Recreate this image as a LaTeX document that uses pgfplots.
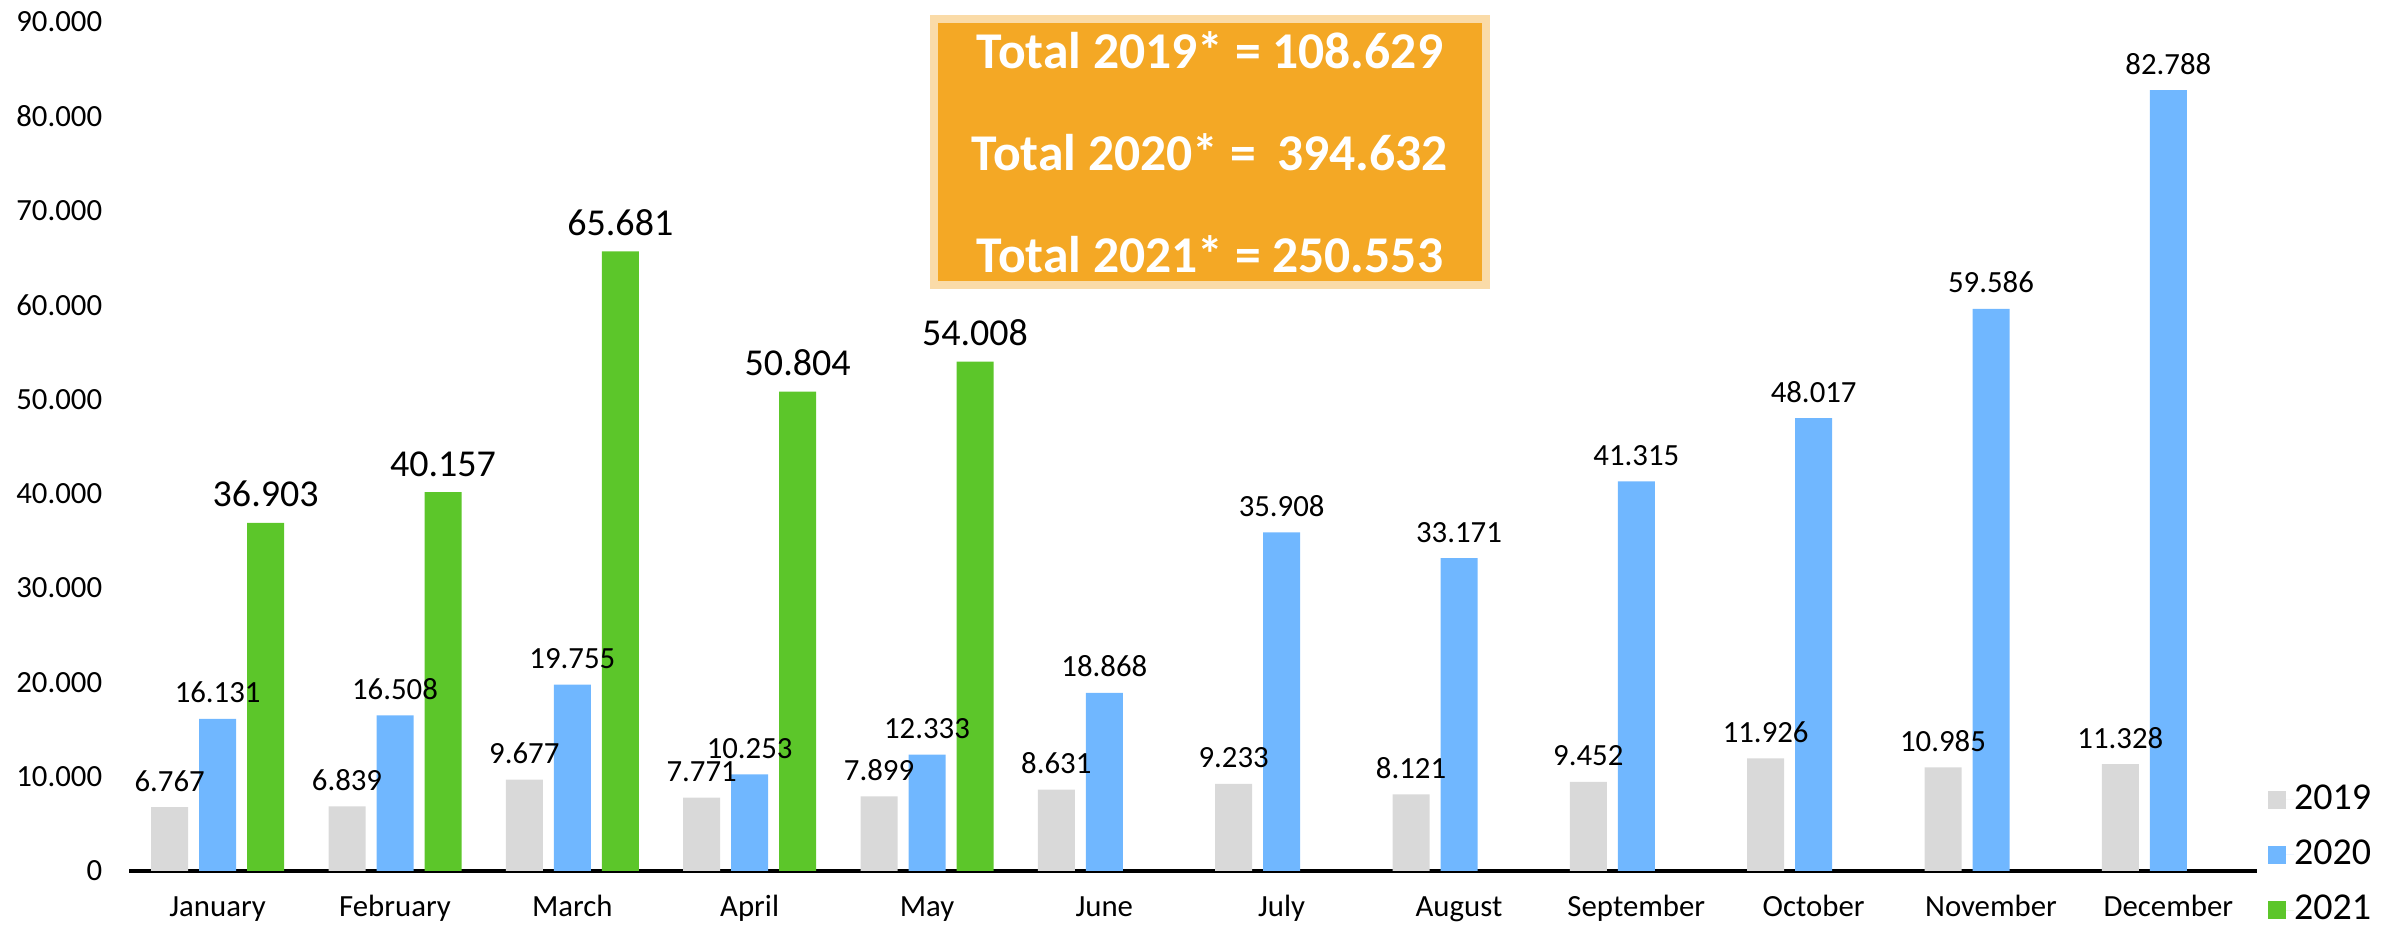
\documentclass[border=0pt]{standalone}
\usepackage{pgfplots}
\pgfplotsset{compat=1.18}
\usepackage{fontspec}
\setmainfont{Carlito}
\definecolor{c19}{HTML}{D9D9D9}
\definecolor{c20}{HTML}{70B7FF}
\definecolor{c21}{HTML}{5CC62A}
\definecolor{boxfill}{HTML}{F4A825}
\definecolor{boxline}{HTML}{FADBA8}
\pgfkeys{/pgf/number format/.cd, fixed, precision=0, 1000 sep={.}, assume math mode=true}
\begin{document}
\begin{tikzpicture}
\useasboundingbox (0,0) rectangle (600.5pt,231.75pt);
\begin{axis}[
  at={(32.25pt,14pt)}, anchor=south west,
  scale only axis, width=532pt, height=212.25pt,
  xmin=-0.5, xmax=11.5, ymin=0, ymax=90000,
  ybar=2.75pt, bar width=9.25pt,
  axis lines*=left, axis line style={-},
  y axis line style={draw=none},
  x axis line style={line width=1pt, black},
  major tick length=0pt,
  xtick={0,...,11},
  xticklabels={January,February,March,April,May,June,July,August,September,October,November,December},
  ytick={0,10000,...,90000},
  scaled y ticks=false,
  tick label style={font=\fontsize{7.7}{9}\selectfont, inner sep=0pt},
  xticklabel style={anchor=base, yshift=-11.5pt},
  yticklabel style={anchor=east, xshift=-6.5pt},
  nodes near coords,
  every node near coord/.append style={font=\fontsize{7.7}{9}\selectfont, anchor=base, inner sep=0pt, yshift=4pt, text=black},
  legend style={at={(rel axis cs:1,0)}, anchor=west, xshift=2.75pt, yshift=4pt,
    draw=none, fill=none, inner sep=0pt, outer sep=0pt,
    font=\fontsize{9.5}{11}\selectfont, row sep=6.1pt,
    nodes={inner sep=0pt}},
  legend cell align=left,
  legend image code/.code={\fill[#1] (0pt,-2.25pt) rectangle (4.5pt,2.25pt); \path (4.5pt,0) -- (6.5pt,0);},
  clip=false,
]
\addplot[fill=c19, draw=none] coordinates {(0,6767) (1,6839) (2,9677) (3,7771) (4,7899) (5,8631) (6,9233) (7,8121) (8,9452) (9,11926) (10,10985) (11,11328)};
\addplot[fill=c20, draw=none] coordinates {(0,16131) (1,16508) (2,19755) (3,10253) (4,12333) (5,18868) (6,35908) (7,33171) (8,41315) (9,48017) (10,59586) (11,82788)};
\addplot[fill=c21, draw=none,
  nodes near coords style={font=\fontsize{9.5}{11}\selectfont}] coordinates {(0,36903) (1,40157) (2,65681) (3,50804) (4,54008)};
\legend{2019,2020,2021}
\draw[line width=2pt, draw=boxline, fill=boxfill] (axis cs:4.0395,90318) rectangle (axis cs:7.152,62120);
\node[anchor=base, text=white, inner sep=0pt, font=\bfseries\fontsize{12.9}{14}\selectfont] at (axis cs:5.596,85124) {Total 2019* = 108.629};
\node[anchor=base, text=white, inner sep=0pt, font=\bfseries\fontsize{12.9}{14}\selectfont] at (axis cs:5.596,74311) {Total 2020* =\hspace{2.5pt} 394.632};
\node[anchor=base, text=white, inner sep=0pt, font=\bfseries\fontsize{12.9}{14}\selectfont] at (axis cs:5.596,63498) {Total 2021* = 250.553};
\end{axis}
\end{tikzpicture}
\end{document}
